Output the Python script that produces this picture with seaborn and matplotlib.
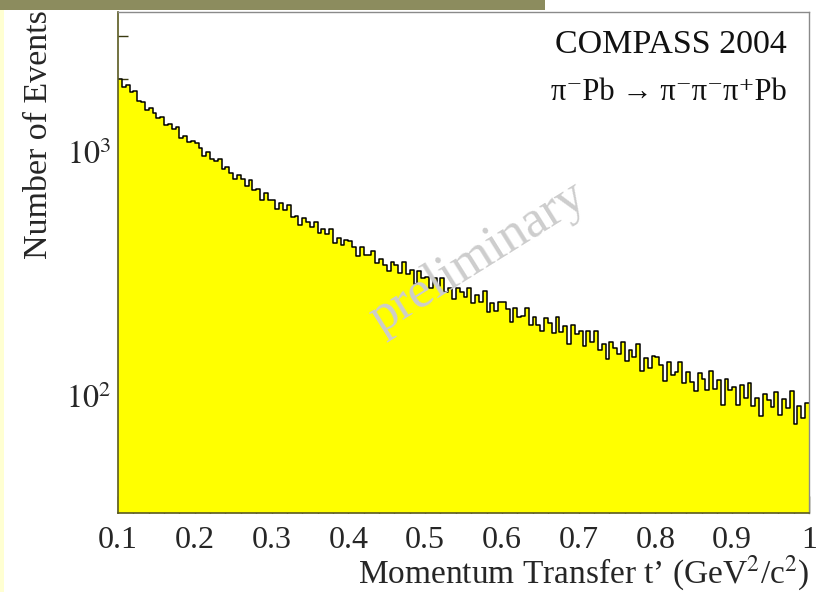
import numpy as np
import pandas as pd
import matplotlib
matplotlib.use("Agg")
import matplotlib.pyplot as plt
from matplotlib.patches import Rectangle
from matplotlib.ticker import FixedLocator, LogLocator, NullFormatter
import seaborn as sns

# ---- data: histogram of t' (bin width 0.005 from 0.1 to 1.0), counts ----
bin_lo = 0.1
bin_hi = 1.0
n_bins = 180
counts = [
    2000, 1855, 1882, 1764, 1776, 1623, 1603, 1486, 1516, 1446,
    1380, 1397, 1289, 1302, 1242, 1266, 1143, 1158, 1098, 1111,
    1090, 1036, 961, 1000, 937, 923, 937, 852, 865, 818,
    777, 809, 777, 728, 768, 701, 707, 636, 681, 639,
    636, 584, 618, 577, 604, 541, 549, 503, 539, 516,
    494, 516, 466, 484, 460, 486, 423, 443, 417, 436,
    432, 410, 374, 407, 377, 378, 395, 350, 366, 344,
    327, 355, 343, 320, 353, 317, 328, 288, 326, 304,
    308, 278, 306, 283, 306, 268, 278, 250, 278, 268,
    255, 277, 240, 260, 244, 269, 221, 241, 224, 242,
    243, 228, 202, 230, 210, 213, 229, 195, 211, 195,
    184, 208, 200, 182, 211, 183, 194, 163, 195, 179,
    184, 160, 184, 166, 185, 155, 164, 142, 166, 158,
    149, 167, 139, 155, 144, 164, 127, 143, 130, 146,
    145, 134, 115, 138, 122, 125, 138, 113, 125, 114,
    105, 124, 118, 106, 127, 107, 116, 92, 118, 106,
    109, 92, 111, 98, 113, 91, 98, 83, 102, 96,
    90, 104, 84, 97, 89, 105, 77, 91, 81, 94,
]
x_ticks = [0.1, 0.2, 0.3, 0.4, 0.5, 0.6, 0.7, 0.8, 0.9, 1.0]
x_tick_labels = ["0.1", "0.2", "0.3", "0.4", "0.5", "0.6", "0.7", "0.8", "0.9", "1"]
y_ticks = [100, 1000]
y_tick_labels = [r"$10^{2}$", r"$10^{3}$"]
title_lines = ["COMPASS 2004", "π⁻Pb → π⁻π⁻π⁺Pb"]
x_title = r"Momentum Transfer t’ (GeV$^{2}$/c$^{2}$)"
y_title = "Number of Events"
watermark = "preliminary"

edges = np.linspace(bin_lo, bin_hi, n_bins + 1)
centers = 0.5 * (edges[:-1] + edges[1:])
df = pd.DataFrame({"t": centers, "n": counts})
bw = (bin_hi - bin_lo) / n_bins

# ---- style ----
sns.set_style("ticks")
plt.rcParams["font.family"] = ["Liberation Serif", "DejaVu Serif"]
plt.rcParams["mathtext.fontset"] = "stix"

fig = plt.figure(figsize=(8.24, 5.92), dpi=100)
fig.patch.set_facecolor("white")
ax = fig.add_axes([118 / 824, 1 - 513 / 592, (809 - 118) / 824, (513 - 12) / 592])

# slide decorations
fig.patches.append(Rectangle((0, 1 - 10 / 592), 545 / 824, 10 / 592, transform=fig.transFigure,
                             facecolor="#8c8c5e", edgecolor="none", zorder=10))
fig.patches.append(Rectangle((0, 0), 4 / 824, 1 - 10 / 592, transform=fig.transFigure,
                             facecolor="#ffffd2", edgecolor="none", zorder=10))

sns.histplot(data=df, x="t", weights="n", binwidth=bw, binrange=(bin_lo, bin_hi),
             element="bars", fill=True, color="#ffff00", alpha=1.0, linewidth=0,
             ax=ax, zorder=1)
sns.histplot(data=df, x="t", weights="n", binwidth=bw, binrange=(bin_lo, bin_hi),
             element="step", fill=False, color="black", linewidth=1.1, ax=ax, zorder=2)

ax.set_yscale("log")
ax.set_xlim(bin_lo, bin_hi)
ax.set_ylim(33.2, 3748)

ax.xaxis.set_major_locator(FixedLocator(x_ticks))
ax.set_xticklabels(x_tick_labels)
ax.xaxis.set_minor_locator(FixedLocator(np.arange(0.12, 1.0, 0.02)))
ax.yaxis.set_major_locator(FixedLocator(y_ticks))
ax.set_yticklabels(y_tick_labels)
ax.yaxis.set_minor_locator(LogLocator(base=10, subs=np.arange(2, 10), numticks=20))
ax.yaxis.set_minor_formatter(NullFormatter())

ax.tick_params(axis="both", which="major", direction="in", length=14, width=1.0,
               color="#3a3a10", labelsize=23, pad=9)
ax.tick_params(axis="both", which="minor", direction="in", length=7, width=1.0,
               color="#3a3a10")
ax.tick_params(axis="x", which="major", length=12, pad=9)
ax.tick_params(axis="y", which="major", pad=5)

for s in ["left", "bottom"]:
    ax.spines[s].set_color("#5a5a20")
    ax.spines[s].set_linewidth(1.2)
for s in ["top", "right"]:
    ax.spines[s].set_visible(True)
    ax.spines[s].set_color("#8a8a8a")
    ax.spines[s].set_linewidth(1.0)

ax.set_xlabel(x_title, fontsize=24, loc="right")
ax.xaxis.set_label_coords(1.0, -0.082)
ax.xaxis.label.set_va("top")
ax.set_ylabel(y_title, fontsize=24.5, loc="top")
ax.yaxis.set_label_coords(-0.092, 1.004)

ax.text(0.968, 0.918, title_lines[0], transform=ax.transAxes, ha="right",
        va="baseline", fontsize=24.5, color="#111111")
ax.text(0.968, 0.824, title_lines[1], transform=ax.transAxes, ha="right",
        va="baseline", fontsize=22, color="#111111",
        family=["Liberation Serif", "DejaVu Serif"])
ax.text(0.521, 0.509, watermark, transform=ax.transAxes, ha="center", va="center",
        rotation=32, fontsize=38, color="#cdcdcd", zorder=3)

fig.savefig("out.png", dpi=100, facecolor="white")
